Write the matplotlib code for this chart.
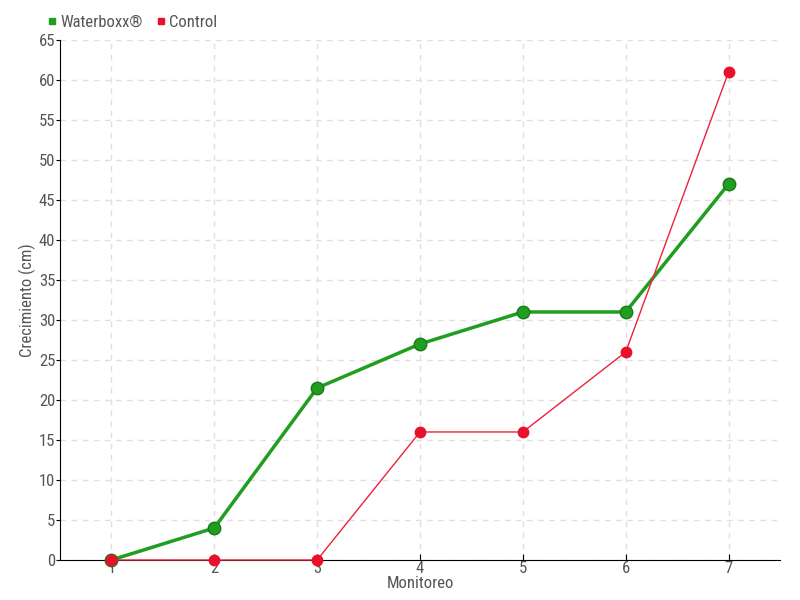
import matplotlib
matplotlib.use("Agg")
import matplotlib.pyplot as plt

monitoreo = [1, 2, 3, 4, 5, 6, 7]
waterboxx = [0, 4, 21.5, 27, 31, 31, 47]
control = [0, 0, 0, 16, 16, 26, 61]

plt.rcParams['font.family'] = ['Roboto Condensed', 'Liberation Sans Narrow', 'Roboto', 'DejaVu Sans']
txt = '#555555'

fig = plt.figure(figsize=(8, 6), dpi=100)
ax = fig.add_axes([0.075, 0.0667, 0.9, 0.8667])

ax.plot(monitoreo, waterboxx, color='#1f9e1f', lw=2.5, marker='o', ms=9,
        mfc='#1f9e1f', mec='#187a18', mew=1, zorder=3, label='Waterboxx®',
        clip_on=False)
ax.plot(monitoreo, control, color='#f0203a', lw=1, marker='o', ms=7.5,
        mfc='#e8102a', mec='#e8102a', zorder=4, label='Control', clip_on=False)

ax.set_xlim(0.5, 7.5)
ax.set_ylim(0, 65)
ax.set_xticks(monitoreo)
ax.set_yticks(range(0, 66, 5))
ax.grid(True, color='#e0e0e0', ls=(0, (4, 4)), lw=1)
ax.set_axisbelow(True)
for s in ['top', 'right']:
    ax.spines[s].set_visible(False)
ax.tick_params(axis='y', direction='out', length=3, colors='black', labelcolor=txt, labelsize=12, pad=0.5)
ax.tick_params(axis='x', direction='in', length=4, colors='black', labelcolor=txt, labelsize=12, pad=1)

ax.set_xlabel('Monitoreo', color=txt, fontsize=12, labelpad=0)
ax.set_ylabel('Crecimiento (cm)', color=txt, fontsize=12)
ax.yaxis.set_label_coords(-0.033, 0.5)

h1 = plt.Line2D([], [], ls='', marker='s', ms=5, color='#1f9e1f')
h2 = plt.Line2D([], [], ls='', marker='s', ms=5, color='#e8102a')
fig.legend([h1, h2], ['Waterboxx®', 'Control'], loc='upper left',
           bbox_to_anchor=(0.04, 1.0), ncol=2, frameon=False, fontsize=12,
           handlelength=0.6, handletextpad=0.2, columnspacing=0.8,
           labelcolor=txt)

fig.savefig('out.png', dpi=100)
